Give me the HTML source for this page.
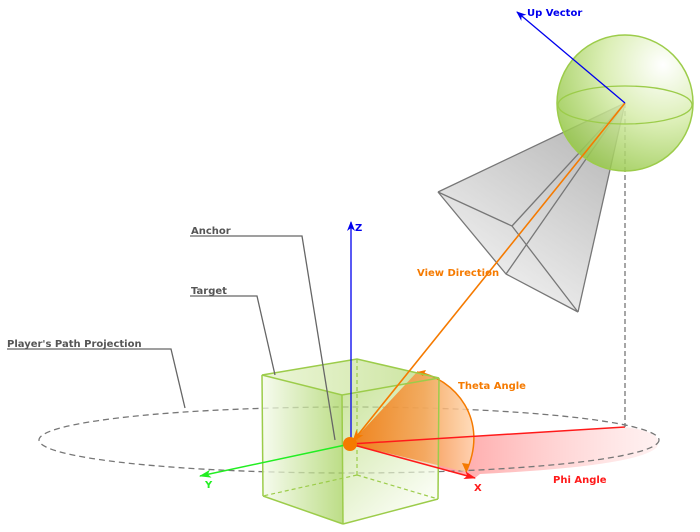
<!DOCTYPE html>
<html><head><meta charset="utf-8"><style>
html,body{margin:0;padding:0;background:#fff;}
svg{display:block;font-family:"DejaVu Sans","Liberation Sans",sans-serif;font-weight:bold;}
</style></head><body>
<svg width="700" height="532" viewBox="0 0 700 532" xmlns="http://www.w3.org/2000/svg">
<defs>
<radialGradient id="sph" cx="0.78" cy="0.22" r="0.95">
<stop offset="0" stop-color="#ffffff"/><stop offset="0.45" stop-color="#d6ecaa"/><stop offset="1" stop-color="#8cc23a"/>
</radialGradient>
<linearGradient id="fr" x1="0.8" y1="0" x2="0.2" y2="1">
<stop offset="0" stop-color="#a8a8a8"/><stop offset="1" stop-color="#f6f6f6"/>
</linearGradient>
<linearGradient id="cubeL" x1="0" y1="0" x2="1" y2="0">
<stop offset="0" stop-color="#f4faea"/><stop offset="1" stop-color="#a6d25e"/>
</linearGradient>
<linearGradient id="cubeR" x1="0" y1="0" x2="0.6" y2="1">
<stop offset="0" stop-color="#b2d870"/><stop offset="1" stop-color="#f8fcf0"/>
</linearGradient>
<linearGradient id="cubeT" x1="0" y1="0" x2="1" y2="0">
<stop offset="0" stop-color="#e4f2c8"/><stop offset="1" stop-color="#b4d874"/>
</linearGradient>
<linearGradient id="phi" x1="0" y1="0" x2="1" y2="0">
<stop offset="0" stop-color="#ff5a5a" stop-opacity="0.9"/><stop offset="1" stop-color="#ffd0d0" stop-opacity="0.3"/>
</linearGradient>
<linearGradient id="th" x1="0" y1="0" x2="1" y2="0">
<stop offset="0" stop-color="#f27000"/><stop offset="0.6" stop-color="#f5a050"/><stop offset="1" stop-color="#ffd6b0"/>
</linearGradient>
<marker id="ab" markerWidth="10" markerHeight="8" refX="9" refY="4" orient="auto" markerUnits="userSpaceOnUse"><path d="M0,0 L10,4 L0,8 L3,4 Z" fill="#0000ee"/></marker>
<marker id="ao" markerWidth="12" markerHeight="9" refX="11" refY="4.5" orient="auto" markerUnits="userSpaceOnUse"><path d="M0,0 L12,4.5 L0,9 L3,4.5 Z" fill="#f57a00"/></marker>
<marker id="ar" markerWidth="12" markerHeight="8" refX="11" refY="4" orient="auto" markerUnits="userSpaceOnUse"><path d="M0,0 L12,4 L0,8 L3,4 Z" fill="#ff1a1a"/></marker>
<marker id="ag" markerWidth="12" markerHeight="8" refX="11" refY="4" orient="auto" markerUnits="userSpaceOnUse"><path d="M0,0 L12,4 L0,8 L3,4 Z" fill="#22ee22"/></marker>
</defs>

<path d="M350,444 L625,427 Q665,432 657,447 Q640,466 480,474 L475,478 Z" fill="url(#phi)"/>
<ellipse cx="349" cy="440" rx="310" ry="33" fill="none" stroke="#777" stroke-width="1.3" stroke-dasharray="6,4"/>

<!-- cube faces -->
<polygon points="262,375 357,359 439,378 342,395" fill="url(#cubeT)" fill-opacity="0.7"/>
<polygon points="262,375 342,395 343,524 263,496" fill="url(#cubeL)" fill-opacity="0.75"/>
<polygon points="342,395 439,378 438,499 343,524" fill="url(#cubeR)" fill-opacity="0.7"/>
<g stroke="#9ccc4a" stroke-width="1.2" fill="none">
<line x1="357" y1="359" x2="357" y2="475" stroke-dasharray="4,3"/>
<line x1="357" y1="475" x2="263" y2="496" stroke-dasharray="4,3"/>
<line x1="357" y1="475" x2="438" y2="499" stroke-dasharray="4,3"/>
</g>

<!-- theta wedge -->
<path d="M350,444 L417,372 C455,378 490,420 466,472 Z" fill="url(#th)" fill-opacity="0.85"/>
<path d="M417,372 C455,378 490,420 466,472" fill="none" stroke="#f57a00" stroke-width="1.5"/>
<path d="M466,472 l-4,-9 l7,1 z" fill="#f57a00"/>
<path d="M417,372 l9,-2 l-3,6 z" fill="#f57a00"/>

<g stroke="#9ccc4a" stroke-width="1.5" fill="none">
<polygon points="262,375 357,359 439,378 342,395"/>
<line x1="262" y1="375" x2="263" y2="496"/>
<line x1="342" y1="395" x2="343" y2="524"/>
<line x1="439" y1="378" x2="438" y2="499"/>
<line x1="263" y1="496" x2="343" y2="524"/>
<line x1="343" y1="524" x2="438" y2="499"/>
</g>

<line x1="350" y1="444" x2="625" y2="427" stroke="#ff1a1a" stroke-width="1.5"/>
<line x1="350" y1="444" x2="475" y2="478" stroke="#ff1a1a" stroke-width="1.5" marker-end="url(#ar)"/>
<line x1="350" y1="444" x2="200" y2="476" stroke="#22ee22" stroke-width="1.5" marker-end="url(#ag)"/>
<line x1="351" y1="444" x2="351" y2="222" stroke="#0000ee" stroke-width="1.3" marker-end="url(#ab)"/>
<line x1="625" y1="103" x2="625" y2="427" stroke="#777" stroke-width="1.3" stroke-dasharray="5,3"/>

<!-- frustum -->
<polygon points="625,103 438,192 506,274 578,312" fill="url(#fr)" fill-opacity="0.85"/>
<g stroke="#777" stroke-width="1.3" fill="none">
<polygon points="438,192 512,226 578,312 506,274"/>
<line x1="625" y1="103" x2="438" y2="192"/>
<line x1="625" y1="103" x2="578" y2="312"/>
<line x1="625" y1="103" x2="512" y2="226"/>
<line x1="625" y1="103" x2="506" y2="274"/>
</g>

<circle cx="625" cy="103" r="68" fill="url(#sph)" fill-opacity="0.85" stroke="#9ccc4a" stroke-width="1.5"/>
<ellipse cx="625" cy="105" rx="67" ry="19" fill="none" stroke="#9ccc4a" stroke-width="1.3"/>

<line x1="625" y1="103" x2="353" y2="441" stroke="#f57a00" stroke-width="1.6" marker-end="url(#ao)"/>
<line x1="625" y1="103" x2="517" y2="12" stroke="#0000ee" stroke-width="1.3" marker-end="url(#ab)"/>
<circle cx="350" cy="444" r="7" fill="#f57a00"/>

<g stroke="#666" stroke-width="1.3" fill="none">
<polyline points="190,236 302,236 335,440"/>
<polyline points="190,296 257,296 275,375"/>
<polyline points="7,349 171,349 185,408"/>
</g>

<g font-size="10">
<text x="191" y="234" fill="#555">Anchor</text>
<text x="191" y="294" fill="#555">Target</text>
<text x="7" y="347" fill="#555">Player's Path Projection</text>
<text x="355" y="231" fill="#0000ee">Z</text>
<text x="527" y="16" fill="#0000ee">Up Vector</text>
<text x="417" y="276" fill="#f57a00">View Direction</text>
<text x="458" y="389" fill="#f57a00">Theta Angle</text>
<text x="553" y="483" fill="#ff1a1a">Phi Angle</text>
<text x="474" y="491" fill="#ff1a1a">X</text>
<text x="205" y="488" fill="#22ee22">Y</text>
</g>
</svg>
</body></html>
